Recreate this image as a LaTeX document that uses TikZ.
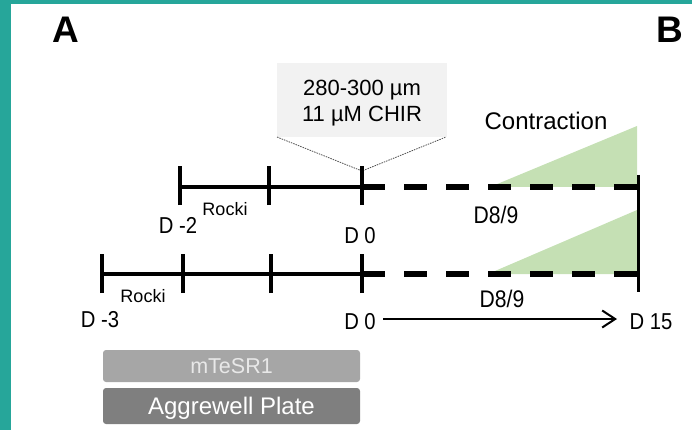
\documentclass[tikz,border=0pt]{standalone}
\usepackage{fontspec}
\setmainfont{Liberation Sans}
\newfontfamily\daysans{Liberation Sans}[FakeStretch=0.88]
\usetikzlibrary{arrows.meta}
\definecolor{frameteal}{RGB}{38,166,154}
\definecolor{calloutgray}{RGB}{242,242,242}
\definecolor{contractgreen}{RGB}{197,224,180}
\definecolor{mediumgray}{RGB}{166,166,166}
\definecolor{mediumtext}{RGB}{232,232,232}
\definecolor{plategray}{RGB}{127,127,127}
\tikzset{
  fs/.style={font=\fontsize{#1}{#1}\selectfont},
  lbl/.style={anchor=base, inner sep=0pt, fs=#1},
  daylbl/.style={anchor=base, inner sep=0pt, font=\daysans\fontsize{#1}{#1}\selectfont},
  panel/.style={anchor=base, inner sep=0pt, font=\fontsize{37}{37}\selectfont\bfseries},
  timeline/.style={line width=3.4pt},
  tick/.style={line width=3.2pt},
  culture/.style={line width=6pt, dash pattern=on 23pt off 19pt},
  callout/.style={dash pattern=on 1.5pt off 1pt, line width=0.8pt, black!70},
  bar/.style={rounded corners=3pt, draw=none},
}
\begin{document}
\begin{tikzpicture}[x=1pt,y=-1pt]
\useasboundingbox (0,0) rectangle (692,430);
% frame strips
\fill[frameteal] (0,0) rectangle (11,430);
\fill[frameteal] (0,0) rectangle (692,4.5);

% panel letters
\node[panel] (pA) at (66,43) {A};
\node[panel] (pB) at (670,43) {B};

% callout box
\fill[calloutgray] (277,63) rectangle (447,137);
\node[lbl=22] (size) at (362,96) {280-300 µm};
\node[lbl=22] (chir) at (362,122) {11 µM CHIR};
\coordinate (cbl) at (277,137);
\coordinate (cbr) at (446,137);
\coordinate (apex) at (362,171);
\draw[callout] (cbl) -- (apex) -- (cbr);

% tick positions
\coordinate (tA) at (180,187);
\coordinate (tB) at (269,187);
\coordinate (tC) at (362,187);
\coordinate (bA) at (102,274);
\coordinate (bB) at (183,274);
\coordinate (bC) at (271,274);
\coordinate (bD) at (362,274);
\coordinate (tEnd) at (637,187);
\coordinate (bEnd) at (637,274);

% contraction wedges
\fill[contractgreen] (490,187) -- (637,126) -- (tEnd) -- cycle;
\fill[contractgreen] (488,274) -- (637,210) -- (bEnd) -- cycle;

% upper timeline
\draw[timeline] (tA) -- (tC);
\draw[culture] (tC) -- (tEnd);
\foreach \p in {tA,tB,tC}
  \draw[tick] ([yshift=-18pt]\p) -- ([yshift=21pt]\p);

% lower timeline
\draw[timeline] (bA) -- (bD);
\draw[culture] (bD) -- (bEnd);
\foreach \p in {bA,bB,bC,bD}
  \draw[tick] ([yshift=-19pt]\p) -- ([yshift=20pt]\p);

% end bar at day 15
\coordinate (eTop) at (638,175);
\coordinate (eBot) at (638,292);
\draw[line width=3pt] (eTop) -- (eBot);

% labels
\node[lbl=24] (contr) at (546,130) {Contraction};
\node[lbl=18] (rockiT) at (225,215) {Rocki};
\node[daylbl=23] (dm2) at (178,233) {D -2};
\node[daylbl=23] (d0t) at (360,243) {D 0};
\node[daylbl=24] (d89t) at (496,223) {D8/9};
\node[lbl=18] (rockiB) at (143,302) {Rocki};
\node[daylbl=23] (dm3) at (100,327) {D -3};
\node[daylbl=24] (d89b) at (502,307) {D8/9};
\node[daylbl=23] (d0b) at (360,329) {D 0};
\node[daylbl=23] (d15) at (651,329) {D 15};

% day axis arrow
\coordinate (axS) at (383,319);
\coordinate (axE) at (617,319);
\draw[line width=2pt, -{Straight Barb[length=13pt,width=17pt,line width=2pt]}] (axS) -- (axE);

% medium and plate bars
\fill[bar, mediumgray] (103,350) rectangle (360,382);
\node[lbl=21.5, text=mediumtext] (medium) at (231.5,373) {mTeSR1};
\fill[bar, plategray] (103,388) rectangle (360,424);
\node[lbl=24, text=white] (plate) at (231.5,414) {Aggrewell Plate};
\end{tikzpicture}
\end{document}
